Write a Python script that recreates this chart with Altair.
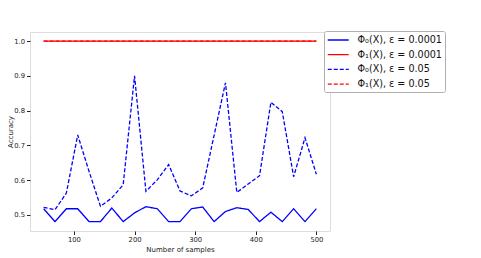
import altair as alt
import pandas as pd

samples = [50, 68.75, 87.5, 106.25, 125, 143.75, 162.5, 181.25, 200, 218.75,
           237.5, 256.25, 275, 293.75, 312.5, 331.25, 350, 368.75, 387.5, 406.25,
           425, 443.75, 462.5, 481.25, 500]

phi0_e1 = [0.518, 0.481, 0.518, 0.518, 0.481, 0.481, 0.520, 0.481, 0.506, 0.524,
           0.518, 0.481, 0.481, 0.518, 0.523, 0.481, 0.510, 0.521, 0.516, 0.481,
           0.508, 0.481, 0.518, 0.481, 0.518]
phi1_e1 = [1.0] * 25
phi0_e2 = [0.522, 0.515, 0.563, 0.730, 0.625, 0.525, 0.549, 0.587, 0.900, 0.568,
           0.601, 0.645, 0.569, 0.555, 0.578, 0.729, 0.880, 0.565, 0.589, 0.613,
           0.824, 0.797, 0.610, 0.722, 0.617]
phi1_e2 = [1.0] * 25

labels = ["Φ₀(X), ε = 0.0001", "Φ₁(X), ε = 0.0001", "Φ₀(X), ε = 0.05", "Φ₁(X), ε = 0.05"]
colors = ["#0000ff", "#ff0000", "#0000ff", "#ff0000"]
dashes = [[1, 0], [1, 0], [4, 2], [4, 2]]

rows = []
for lab, vals in zip(labels, [phi0_e1, phi1_e1, phi0_e2, phi1_e2]):
    for s, v in zip(samples, vals):
        rows.append({"samples": s, "acc": v, "series": lab})
df = pd.DataFrame(rows)

FONT = "DejaVu Sans"

x = alt.X("samples:Q", title="Number of samples",
          scale=alt.Scale(domain=[27.5, 522.5], nice=False, zero=False),
          axis=alt.Axis(values=[100, 200, 300, 400, 500], format="d", grid=False,
                        domain=False, tickSize=3.5, tickColor="#222", labelColor="#222",
                        labelFontSize=6.8, labelFont=FONT, titleFont=FONT,
                        titleFontSize=7, titleFontWeight="normal", titleColor="#222",
                        labelPadding=2, titlePadding=2))
y = alt.Y("acc:Q", title="Accuracy",
          scale=alt.Scale(domain=[0.454, 1.026], nice=False, zero=False),
          axis=alt.Axis(values=[0.5, 0.6, 0.7, 0.8, 0.9, 1.0], format=".1f", grid=False,
                        domain=False, tickSize=3.5, tickColor="#222", labelColor="#222",
                        labelFontSize=6.8, labelFont=FONT, titleFont=FONT,
                        titleFontSize=7, titleFontWeight="normal", titleColor="#222",
                        labelPadding=2, titlePadding=0))

legend_kw = dict(title=None, orient="none", legendX=294, legendY=-1,
                 symbolType="M-1,0H3", symbolSize=110, symbolStrokeWidth=1.3,
                 labelFont=FONT, labelFontSize=9.6, labelColor="#111",
                 rowPadding=3.7, padding=3, strokeColor="#b0b0b0",
                 fillColor="white", cornerRadius=2, labelOffset=18.5)

color = alt.Color("series:N", sort=labels,
                  scale=alt.Scale(domain=labels, range=colors),
                  legend=alt.Legend(**legend_kw))
dash = alt.StrokeDash("series:N", sort=labels,
                      scale=alt.Scale(domain=labels, range=dashes),
                      legend=alt.Legend(**legend_kw))

layers = []
for lab in labels:
    layers.append(
        alt.Chart(df).transform_filter(alt.datum.series == lab)
        .mark_line(strokeWidth=1.3)
        .encode(x=x, y=y, color=color, strokeDash=dash)
    )

chart = alt.layer(*layers).properties(
    width=300, height=199,
    autosize=alt.AutoSizeParams(type="none"),
    padding={"left": 22, "top": 24, "right": 143, "bottom": 26},
).configure_view(stroke="#444", strokeWidth=1).configure(background="white")

chart.save("out.html", embed_options={"renderer": "svg", "actions": False})
